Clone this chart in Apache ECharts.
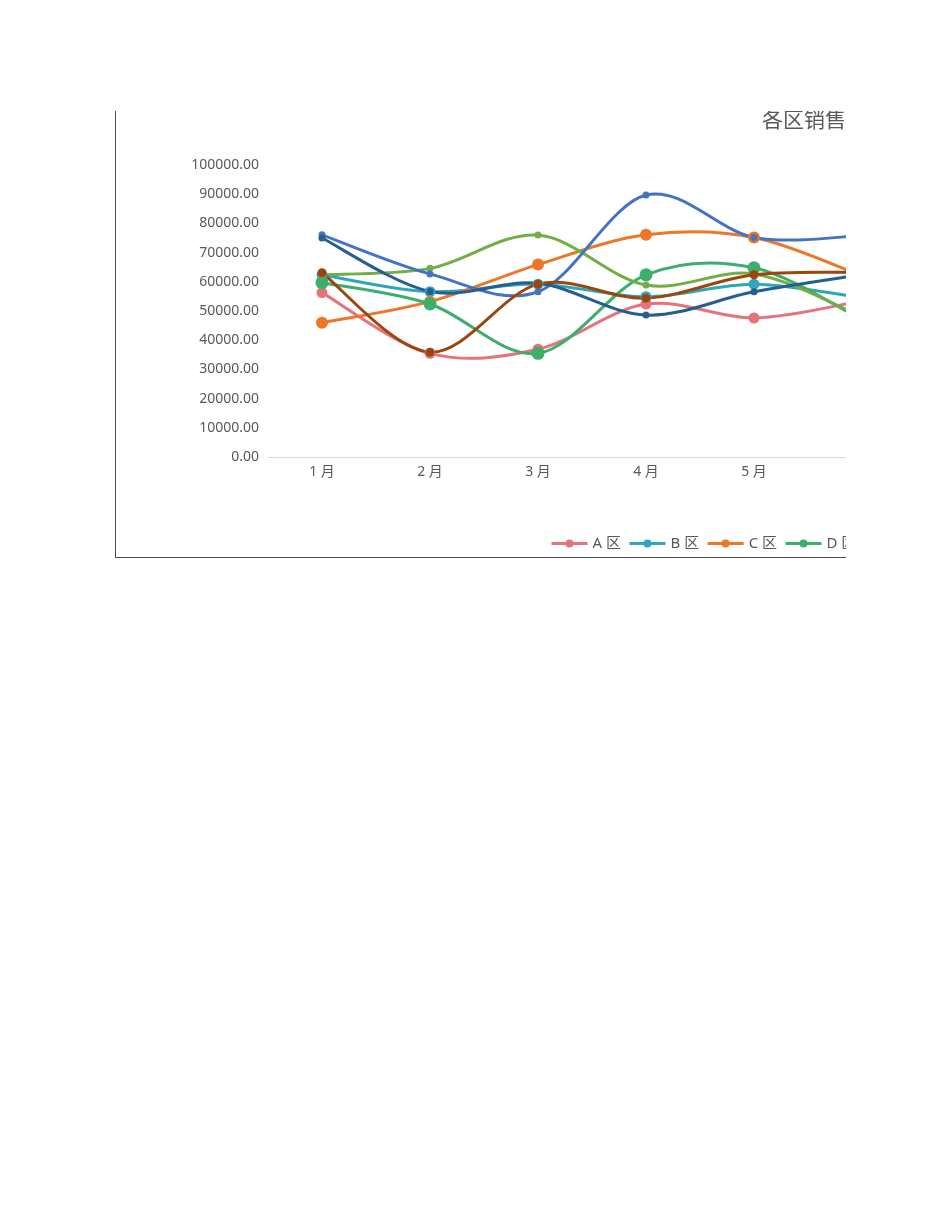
<!DOCTYPE html>
<html>
<head>
<meta charset="utf-8">
<script src="https://cdn.jsdelivr.net/npm/echarts@6/dist/echarts.min.js"></script>
<style>
  html, body { margin: 0; padding: 0; background: #fff; width: 950px; height: 1230px; overflow: hidden; }
  #frame { position: absolute; left: 115px; top: 111px; width: 730px; height: 446px; overflow: hidden;
           border-left: 1px solid #4a4a4a; border-bottom: 1px solid #4a4a4a; }
  #chart { position: absolute; left: 0; top: 0; width: 1000px; height: 446px; }
</style>
</head>
<body>
<div id="frame"><div id="chart"></div></div>
<script>
const months = ['1月', '2月', '3月', '4月', '5月', '6月'];
const yTicks = [0, 10000, 20000, 30000, 40000, 50000, 60000, 70000, 80000, 90000, 100000];
const titleText = '各区销售情况';
const seriesNames = ['A区', 'B区', 'C区', 'D区', 'E区', 'F区', 'G区', 'H区'];
const aValues = [56300, 35500, 36900, 52400, 47600, 53500];
const bValues = [62400, 56600, 59200, 54900, 59200, 54500];
const cValues = [46000, 53200, 65900, 76100, 75200, 62000];
const dValues = [59700, 52400, 35500, 62400, 64800, 47000];
const eValues = [62400, 64600, 76000, 58900, 62700, 48000];
const fValues = [76100, 62700, 56600, 89700, 75200, 75800];
const gValues = [75000, 56700, 59500, 48600, 56600, 62500];
const hValues = [63100, 35900, 59200, 54400, 62400, 63200];

const allValues = [aValues, bValues, cValues, dValues, eValues, fValues, gValues, hValues];
const colors = ['#E5737B', '#2FA6B9', '#EE7629', '#3DAE6B', '#72AD47', '#4472C4', '#255E91', '#9C460E'];
const symbolSizes = [11, 11, 12, 13, 7, 7, 7, 9];

const FONT = '"Noto Sans", "Noto Sans CJK SC", sans-serif';
const chart = echarts.init(document.getElementById('chart'), null, { renderer: 'canvas' });

// Excel-like smoothed curve (Bezier with 1/6 neighbour tangents), drawn through the axis scales
function curveSeries(vals, color) {
  return {
    type: 'custom',
    silent: true,
    data: vals.map((v, j) => [j, v]),
    encode: { x: 0, y: 1 },
    renderItem: function (params, api) {
      if (params.dataIndex !== 0) return null;
      const pts = vals.map((v, j) => api.coord([j, v]));
      const n = pts.length;
      let d = 'M' + pts[0][0] + ' ' + pts[0][1];
      for (let k = 0; k < n - 1; k++) {
        const p0 = pts[Math.max(k - 1, 0)], p1 = pts[k], p2 = pts[k + 1], p3 = pts[Math.min(k + 2, n - 1)];
        const c1x = p1[0] + (p2[0] - p0[0]) / 6, c1y = p1[1] + (p2[1] - p0[1]) / 6;
        const c2x = p2[0] - (p3[0] - p1[0]) / 6, c2y = p2[1] - (p3[1] - p1[1]) / 6;
        d += ' C' + c1x + ' ' + c1y + ' ' + c2x + ' ' + c2y + ' ' + p2[0] + ' ' + p2[1];
      }
      return {
        type: 'path',
        shape: { pathData: d },
        style: { fill: 'none', stroke: color, lineWidth: 3, lineJoin: 'round', lineCap: 'round' }
      };
    },
    animation: false
  };
}

const series = [];
allValues.forEach((vals, i) => {
  series.push(curveSeries(vals, colors[i]));
  series.push({
    name: seriesNames[i],
    type: 'line',
    data: vals,
    symbol: 'circle',
    symbolSize: symbolSizes[i],
    lineStyle: { width: 3, color: colors[i], opacity: 0 },
    itemStyle: { color: colors[i] },
    emphasis: { disabled: true },
    animation: false
  });
});

chart.setOption({
  animation: false,
  title: {
    text: titleText,
    left: 646, top: 0, padding: 0,
    textStyle: { fontFamily: FONT, fontSize: 21, fontWeight: 'normal', color: '#595959' }
  },
  legend: {
    left: 434, top: 425, padding: 0,
    itemWidth: 36, itemHeight: 10, itemGap: 7,
    data: seriesNames.map((n, i) => ({ name: n, lineStyle: { color: colors[i], width: 3, opacity: 1 } })),
    lineStyle: { opacity: 1, width: 3 },
    formatter: name => name.replace('区', ' 区'),
    textStyle: { fontFamily: FONT, fontSize: 15, color: '#595959' }
  },
  grid: { left: 152, top: 54, width: 648, height: 292 },
  xAxis: {
    type: 'category',
    data: months,
    boundaryGap: true,
    axisLine: { lineStyle: { color: '#D9D9D9', width: 1 } },
    axisTick: { show: false },
    axisLabel: {
      fontFamily: FONT, fontSize: 14, color: '#595959', margin: 8,
      formatter: v => v.replace('月', ' 月')
    }
  },
  yAxis: {
    type: 'value',
    min: yTicks[0], max: yTicks[yTicks.length - 1], interval: 10000,
    axisLine: { show: false },
    axisTick: { show: false },
    splitLine: { show: false },
    axisLabel: {
      fontFamily: FONT, fontSize: 14, color: '#595959', margin: 9,
      formatter: v => v.toFixed(2)
    }
  },
  series: series
});
</script>
</body>
</html>
